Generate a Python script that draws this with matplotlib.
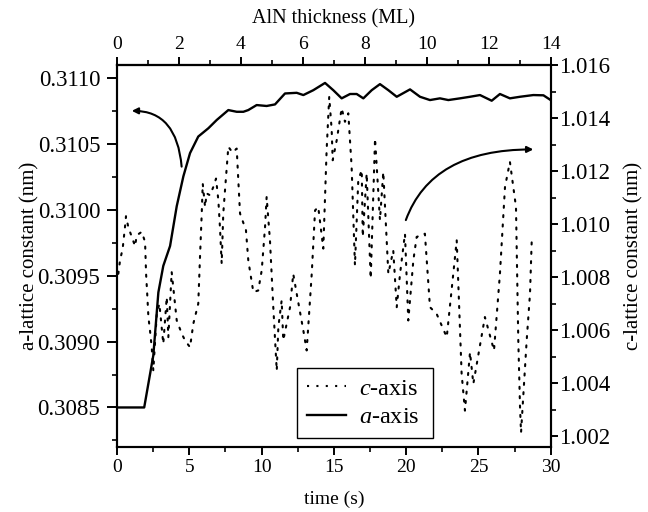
import matplotlib
matplotlib.use("Agg")
import matplotlib.pyplot as plt
from matplotlib.ticker import MultipleLocator, FormatStrFormatter
from matplotlib.lines import Line2D

plt.rcParams['font.family'] = ['Liberation Serif', 'DejaVu Serif']
plt.rcParams['mathtext.fontset'] = 'custom'
plt.rcParams['mathtext.it'] = 'Liberation Serif:italic'
plt.rcParams['mathtext.rm'] = 'Liberation Serif'

# a-axis lattice constant (left axis)
a_time = [0.0, 1.88, 2.51, 2.86, 3.20, 3.67, 4.13, 4.59, 5.05, 5.62, 6.32, 6.90,
          7.70, 8.28, 8.74, 9.08, 9.66, 10.35, 10.93, 11.62, 12.43, 12.89, 13.58,
          14.39, 14.96, 15.54, 16.12, 16.58, 17.04, 17.62, 18.19, 18.77, 19.35,
          20.27, 20.96, 21.65, 22.34, 22.92, 23.73, 24.42, 25.11, 25.92, 26.49,
          27.18, 27.88, 28.80, 29.50, 30.0]
a_lattice = [0.3085, 0.3085, 0.308895, 0.309374, 0.309575, 0.309726, 0.310028,
             0.310255, 0.310431, 0.310557, 0.310620, 0.310683, 0.310758, 0.310745,
             0.310745, 0.310758, 0.310796, 0.310789, 0.310801, 0.310884, 0.310889,
             0.310872, 0.310909, 0.310964, 0.310909, 0.310847, 0.310880, 0.310880,
             0.310847, 0.310909, 0.310955, 0.310909, 0.310859, 0.310915, 0.310859,
             0.310834, 0.310847, 0.310834, 0.310847, 0.310859, 0.310872, 0.310829,
             0.310880, 0.310847, 0.310859, 0.310872, 0.310870, 0.310834]

# c-axis lattice constant (right axis)
c_time = [0.09, 0.21, 0.39, 0.55, 0.62, 0.78, 1.02, 1.25, 1.36, 1.71, 1.94, 2.01,
          2.10, 2.17, 2.28, 2.40, 2.51, 2.75, 2.93, 3.20, 3.44, 3.55, 3.78, 4.13,
          4.48, 4.70, 5.05, 5.28, 5.62, 5.74, 5.86, 5.93, 6.09, 6.20, 6.43, 6.66,
          6.85, 7.01, 7.12, 7.24, 7.35, 7.47, 7.70, 7.99, 8.28, 8.39, 8.51, 8.92,
          9.08, 9.43, 9.77, 10.01, 10.24, 10.35, 10.58, 10.81, 11.05, 11.16, 11.39,
          11.50, 11.97, 12.19, 12.43, 12.89, 13.12, 13.47, 13.70, 13.92, 14.27,
          14.50, 14.68, 14.85, 14.92, 15.20, 15.54, 15.77, 16.00, 16.23, 16.46,
          16.69, 16.93, 17.00, 17.27, 17.55, 17.85, 18.19, 18.42, 18.77, 19.11,
          19.35, 19.58, 19.92, 20.15, 20.50, 20.73, 21.30, 21.65, 22.11, 22.81,
          23.50, 23.84, 24.07, 24.42, 24.65, 25.45, 26.08, 26.49, 26.84, 27.18,
          27.60, 27.76, 27.88, 27.95, 28.34, 28.57, 28.69]
c_lattice = [1.00813, 1.00864, 1.00908, 1.00989, 1.01030, 1.00989, 1.00952, 1.00917,
             1.00958, 1.00971, 1.00933, 1.00813, 1.00725, 1.00650, 1.00599, 1.00536,
             1.00448, 1.00662, 1.00700, 1.00549, 1.00725, 1.00574, 1.00820, 1.00637,
             1.00587, 1.00562, 1.00536, 1.00625, 1.00700, 1.00876, 1.01040, 1.01153,
             1.01065, 1.01116, 1.01109, 1.01140, 1.01172, 1.01090, 1.00989, 1.00851,
             1.01040, 1.01128, 1.01292, 1.01270, 1.01285, 1.01166, 1.01040, 1.00977,
             1.00864, 1.00744, 1.00750, 1.00826, 1.00989, 1.01103, 1.00939, 1.00687,
             1.00448, 1.00612, 1.00713, 1.00562, 1.00687, 1.00813, 1.00738, 1.00599,
             1.00524, 1.00813, 1.01052, 1.01065, 1.00908, 1.01279, 1.01480, 1.01355,
             1.01241, 1.01317, 1.01437, 1.01386, 1.01418, 1.01216, 1.00845, 1.01166,
             1.01204, 1.00952, 1.01191, 1.00795, 1.01323, 1.01015, 1.01197, 1.00813,
             1.00901, 1.00687, 1.00813, 1.00964, 1.00637, 1.00864, 1.00952, 1.00964,
             1.00687, 1.00662, 1.00574, 1.00939, 1.00436, 1.00297, 1.00517, 1.00398,
             1.00650, 1.00524, 1.00813, 1.01140, 1.01235, 1.01065, 1.00562, 1.00310,
             1.00214, 1.00562, 1.00738, 1.00939]

ml_ticks = [0, 2, 4, 6, 8, 10, 12, 14]
ML_MAX = 14.0
T_MAX = 30.0

fs = 14
yfs = 16.5
fig = plt.figure(figsize=(6.48, 5.12), dpi=100)
ax = fig.add_axes([0.1806, 0.1270, 0.6692, 0.7460])
ax2 = ax.twinx()

la, = ax.plot(a_time, a_lattice, color='black', lw=1.7, solid_joinstyle='round')
lc, = ax2.plot(c_time, c_lattice, color='black', lw=1.5,
               linestyle=(0, (1, 3.5)), dash_capstyle='round')

ax.set_xlim(0, T_MAX)
ax.set_ylim(0.3082, 0.3111)
ax2.set_ylim(1.0016, 1.0160)

ax.xaxis.set_major_locator(MultipleLocator(5))
ax.xaxis.set_minor_locator(MultipleLocator(2.5))
ax.yaxis.set_major_locator(MultipleLocator(0.0005))
ax.yaxis.set_minor_locator(MultipleLocator(0.00025))
ax.yaxis.set_major_formatter(FormatStrFormatter('%.4f'))
ax2.yaxis.set_major_locator(MultipleLocator(0.002))
ax2.yaxis.set_minor_locator(MultipleLocator(0.001))
ax2.yaxis.set_major_formatter(FormatStrFormatter('%.3f'))

top = ax.secondary_xaxis('top', functions=(lambda t: t * ML_MAX / T_MAX,
                                           lambda m: m * T_MAX / ML_MAX))
top.set_xticks(ml_ticks)
top.xaxis.set_minor_locator(MultipleLocator(1))
top.set_xlabel('AlN thickness (ML)', fontsize=14.5, labelpad=9)

for a in (ax, ax2, top):
    a.tick_params(which='major', direction='out', length=6, width=1.4, pad=3)
    a.tick_params(which='minor', direction='out', length=3.5, width=1.2)
ax.tick_params(axis='x', labelsize=fs)
top.tick_params(axis='x', labelsize=fs)
ax.tick_params(axis='y', which='major', labelsize=yfs, length=7, pad=5)
ax2.tick_params(axis='y', which='major', labelsize=yfs, length=5, pad=1)
for a in (ax, ax2):
    for s in a.spines.values():
        s.set_linewidth(1.5)
top.spines['top'].set_linewidth(1.5)

ax.set_xlabel('time (s)', fontsize=fs, labelpad=10)
ax.set_ylabel('a-lattice constant (nm)', fontsize=15, labelpad=-1)
ax2.set_ylabel('c-lattice constant (nm)', fontsize=15, labelpad=10)

arrow_kw = dict(arrowstyle='-|>', color='black', lw=1.5, mutation_scale=9,
                shrinkA=0, shrinkB=0)
ax2.annotate('', xy=(0.034, 0.880), xytext=(0.149, 0.734), xycoords='axes fraction',
             textcoords='axes fraction',
             arrowprops=dict(connectionstyle='angle3,angleA=95,angleB=0', **arrow_kw))
ax2.annotate('', xy=(0.960, 0.779), xytext=(0.666, 0.594), xycoords='axes fraction',
             textcoords='axes fraction',
             arrowprops=dict(connectionstyle='angle3,angleA=70,angleB=0', **arrow_kw))

handles = [Line2D([], [], color='black', lw=1.5, linestyle=(0, (1, 3.5))),
           Line2D([], [], color='black', lw=1.7)]
leg = ax2.legend(handles, [r'$\it{c}$-axis', r'$\it{a}$-axis'], loc='lower left',
                 bbox_to_anchor=(0.415, 0.024, 0.314, 0.185), mode='expand',
                 borderaxespad=0, fontsize=17.5, frameon=True, fancybox=False,
                 edgecolor='black', framealpha=1, handlelength=1.6, borderpad=0.4,
                 labelspacing=0.25, handletextpad=0.55)
leg.get_frame().set_linewidth(1.0)

fig.savefig('out.png', dpi=100)
